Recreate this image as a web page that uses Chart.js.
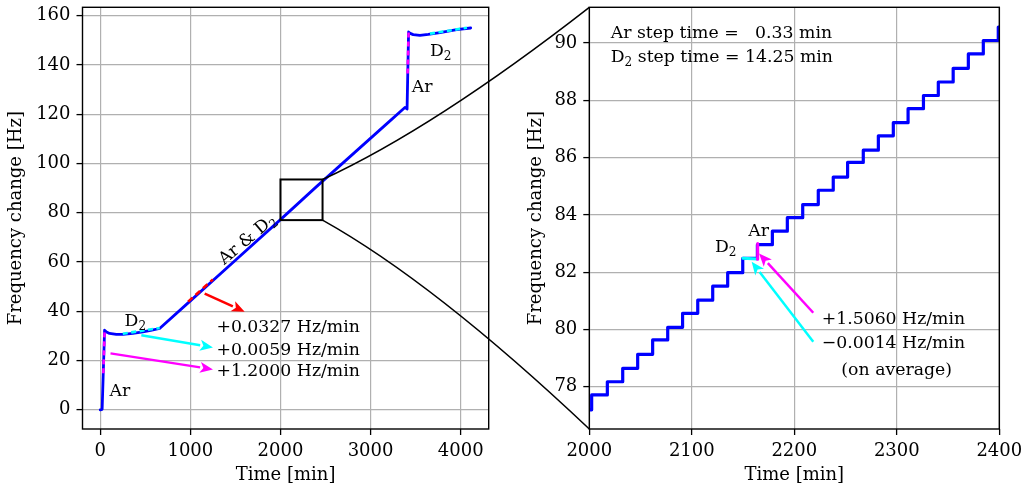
<!DOCTYPE html>
<html>
<head>
<meta charset="utf-8">
<script src="https://cdn.jsdelivr.net/npm/chart.js@4.4.0/dist/chart.umd.min.js"></script>
<style>
  body { margin: 0; background: #fff; }
  #wrap { position: relative; width: 1025px; height: 490px; }
  canvas { position: absolute; top: 0; }
</style>
</head>
<body>
<div id="wrap">
  <canvas id="left" width="500" height="490" style="left:0"></canvas>
  <canvas id="right" width="525" height="490" style="left:500px"></canvas>
  <canvas id="links" width="1025" height="490" style="left:0;pointer-events:none"></canvas>
</div>
<script>
const FONT = '"DejaVu Serif", serif';

// left panel: whole run
const leftTime = [0, 21, 48, 70, 103, 178, 251, 362, 473, 560, 659, 1000, 1500, 2000, 2400, 2800, 3200, 3381, 3395, 3405, 3422, 3440, 3473, 3548, 3640, 3770, 3956, 4111];
const leftFreq = [0, 0.2, 32.3, 31.6, 31.0, 30.6, 30.6, 31.0, 31.6, 32.2, 33.0, 44.2, 60.7, 77.2, 90.6, 103.7, 116.8, 122.7, 122.4, 122.1, 153.4, 152.8, 152.3, 152.0, 152.4, 153.1, 154.3, 155.0];

// fitted segments drawn dashed over the data
const arFit1Time = [34, 48.5],     arFit1Freq = [14.8, 32.3];
const d2Fit1Time = [250, 660],     d2Fit1Freq = [30.9, 33.2];
const mixFitTime = [975, 1250],    mixFitFreq = [43.9, 52.9];
const arFit2Time = [3411, 3422],   arFit2Freq = [136.5, 153.3];
const d2Fit2Time = [3660, 4070],   d2Fit2Freq = [152.7, 155.1];

// right panel: zoom on 2000-2400 min, step times and plateau levels
const stepTime = [2002.3, 2017.6, 2032.6, 2047.2, 2061.8, 2076.5, 2091.0, 2105.8, 2120.4, 2135.0, 2149.7, 2164.0, 2178.6, 2193.2, 2208.2, 2223.4, 2238.0, 2252.0, 2267.3, 2282.0, 2296.6, 2311.0, 2326.0, 2340.5, 2355.0, 2369.8, 2384.4, 2399.0];
const stepLevel = [77.71, 78.17, 78.64, 79.13, 79.63, 80.07, 80.56, 81.02, 81.51, 81.98, 82.48, 82.96, 83.43, 83.90, 84.36, 84.86, 85.32, 85.83, 86.26, 86.76, 87.22, 87.71, 88.17, 88.64, 89.12, 89.62, 90.09, 90.56];
const startLevel = 77.19;
const d2FitZoomTime = [2150, 2163.6], d2FitZoomFreq = [82.48, 82.46];
const arFitZoomTime = [2164.0, 2164.3], arFitZoomFreq = [82.45, 83.0];

// ticks and ranges
const leftXTicks = [0, 1000, 2000, 3000, 4000];
const leftYTicks = [0, 20, 40, 60, 80, 100, 120, 140, 160];
const rightXTicks = [2000, 2100, 2200, 2300, 2400];
const rightYTicks = [78, 80, 82, 84, 86, 88, 90];
const leftXRange = [-197, 4311], leftYRange = [-7.8, 163.4];
const rightXRange = [2000, 2400], rightYRange = [76.52, 91.25];
const zoomBoxX = [2000, 2467], zoomBoxY = [77.0, 93.5];

// annotations (data coords, y = visual centre)
const leftNotes = [
  { t: '+0.0327 Hz/min', x: 1289, y: 34.0 },
  { t: '+0.0059 Hz/min', x: 1289, y: 24.9 },
  { t: '+1.2000 Hz/min', x: 1289, y: 16.3 },
  { t: 'Ar', x: 103, y: 8.0 },
  { t: 'D_{2}', x: 270, y: 36.6 },
  { t: 'Ar', x: 3456, y: 131.4 },
  { t: 'D_{2}', x: 3659, y: 146.3 },
  { t: 'Ar & D_{2}', x: 1622, y: 69.6, rot: -40, align: 'center' }
];
const leftArrows = [
  { c: '#ff0000', from: [1159, 47.2], to: [1603, 39.8] },
  { c: '#00ffff', from: [456, 30.3], to: [1251, 25.3] },
  { c: '#ff00ff', from: [114, 22.9], to: [1251, 16.4] }
];
const rightNotes = [
  { t: 'Ar step time =   0.33 min', x: 2020.9, y: 90.40 },
  { t: 'D_{2} step time = 14.25 min', x: 2020.9, y: 89.57 },
  { t: '+1.5060 Hz/min', x: 2226.7, y: 80.42 },
  { t: '\u22120.0014 Hz/min', x: 2226.7, y: 79.57 },
  { t: '(on average)', x: 2299.9, y: 78.64, align: 'center' },
  { t: 'D_{2}', x: 2122.6, y: 82.91 },
  { t: 'Ar', x: 2155.1, y: 83.49 }
];
const rightArrows = [
  { c: '#00ffff', from: [2218.5, 79.57], to: [2158.4, 82.36] },
  { c: '#ff00ff', from: [2218.5, 80.58], to: [2165.6, 82.65] }
];

function pts(xs, ys) {
  return xs.map((x, i) => ({ x: x, y: ys[i] }));
}

function stairs() {
  const out = [{ x: 1990, y: startLevel }];
  stepTime.forEach((t, i) => out.push({ x: t, y: stepLevel[i] }));
  out.push({ x: 2410, y: stepLevel[stepLevel.length - 1] });
  return out;
}

function richText(ctx, str, x, yc, size, align) {
  const parts = str.split(/(_\{[^}]*\})/).filter(Boolean)
    .map(p => p.startsWith('_{') ? [p.slice(2, -1), true] : [p, false]);
  const fontOf = sub => (sub ? size * 0.7 : size) + 'px ' + FONT;
  let w = 0;
  parts.forEach(([t, s]) => { ctx.font = fontOf(s); w += ctx.measureText(t).width; });
  let cx = align === 'center' ? x - w / 2 : x;
  const base = yc + size * 0.365;
  ctx.textAlign = 'left';
  ctx.textBaseline = 'alphabetic';
  parts.forEach(([t, s]) => {
    ctx.font = fontOf(s);
    ctx.fillText(t, cx, base + (s ? size * 0.22 : 0));
    cx += ctx.measureText(t).width;
  });
}

function arrow(ctx, x0, y0, x1, y1, color) {
  const a = Math.atan2(y1 - y0, x1 - x0);
  const hl = 13, hw = 5.5;
  const bx = x1 - hl * Math.cos(a), by = y1 - hl * Math.sin(a);
  ctx.strokeStyle = color; ctx.fillStyle = color; ctx.lineWidth = 2.5;
  ctx.beginPath(); ctx.moveTo(x0, y0); ctx.lineTo(bx, by); ctx.stroke();
  ctx.beginPath();
  ctx.moveTo(x1, y1);
  ctx.lineTo(bx - hw * Math.sin(a), by + hw * Math.cos(a));
  ctx.lineTo(x1 - hl * 0.75 * Math.cos(a), y1 - hl * 0.75 * Math.sin(a));
  ctx.lineTo(bx + hw * Math.sin(a), by - hw * Math.cos(a));
  ctx.closePath(); ctx.fill();
}

function notesPlugin(notes, arrows, box) {
  return {
    id: 'notes',
    afterDatasetsDraw(chart) {
      const ctx = chart.ctx, sx = chart.scales.x, sy = chart.scales.y;
      ctx.save();
      if (box) {
        const x0 = sx.getPixelForValue(box[0][0]), x1 = sx.getPixelForValue(box[0][1]);
        const y0 = sy.getPixelForValue(box[1][0]), y1 = sy.getPixelForValue(box[1][1]);
        ctx.strokeStyle = '#000'; ctx.lineWidth = 2;
        ctx.strokeRect(x0, y1, x1 - x0, y0 - y1);
      }
      arrows.forEach(a => arrow(ctx, sx.getPixelForValue(a.from[0]), sy.getPixelForValue(a.from[1]),
        sx.getPixelForValue(a.to[0]), sy.getPixelForValue(a.to[1]), a.c));
      ctx.fillStyle = '#000';
      notes.forEach(n => {
        const px = sx.getPixelForValue(n.x), py = sy.getPixelForValue(n.y);
        if (n.rot) {
          ctx.save(); ctx.translate(px, py); ctx.rotate(n.rot * Math.PI / 180);
          richText(ctx, n.t, 0, 0, 17.3, 'center');
          ctx.restore();
        } else {
          richText(ctx, n.t, px, py, 17.3, n.align);
        }
      });
      ctx.restore();
    },
    afterDraw(chart) {
      const a = chart.chartArea, ctx = chart.ctx;
      ctx.save();
      ctx.strokeStyle = '#000'; ctx.lineWidth = 1.4;
      ctx.strokeRect(a.left, a.top, a.right - a.left, a.bottom - a.top);
      ctx.restore();
    }
  };
}

function axis(range, ticks, title, titlePad, isY, size) {
  return {
    type: 'linear', min: range[0], max: range[1],
    afterBuildTicks: s => { s.ticks = ticks.map(v => ({ value: v })); },
    afterFit: s => {
      if (isY) s.width = size; else s.height = size;
      s.paddingTop = 0; s.paddingBottom = 0; s.paddingLeft = 0; s.paddingRight = 0;
    },
    grid: { color: '#b0b0b0', lineWidth: 1.2, tickColor: '#000', tickWidth: 1.3, tickLength: 6 },
    border: { display: false },
    ticks: { color: '#000', font: { family: FONT, size: 18 }, padding: 6, maxRotation: 0, autoSkip: false,
      callback: v => String(v) },
    title: { display: true, text: title, color: '#000', font: { family: FONT, size: 18 },
      padding: isY ? { top: titlePad } : { bottom: titlePad } }
  };
}

function line(data, color, width, dash) {
  return { data: data, showLine: true, borderColor: color, borderWidth: width, pointRadius: 0,
    borderDash: dash || [], borderCapStyle: dash ? 'butt' : 'round', borderJoinStyle: 'round', tension: 0 };
}

const common = { responsive: false, animation: false, events: [], devicePixelRatio: 1,
  plugins: { legend: { display: false }, tooltip: { enabled: false } } };

const leftChart = new Chart(document.getElementById('left'), {
  type: 'scatter',
  data: { datasets: [
    line(pts(arFit1Time, arFit1Freq), '#ff00ff', 2.6, [5, 4]),
    line(pts(d2Fit1Time, d2Fit1Freq), '#00ffff', 2.6, [5, 3.5]),
    line(pts(mixFitTime, mixFitFreq), '#ff0000', 2.6, [6, 4]),
    line(pts(arFit2Time, arFit2Freq), '#ff00ff', 2.6, [5, 4]),
    line(pts(d2Fit2Time, d2Fit2Freq), '#00ffff', 2.6, [5, 3.5]),
    line(pts(leftTime, leftFreq), '#0000ff', 2.8)
  ] },
  options: Object.assign({}, common, {
    layout: { padding: { top: 7.3, right: 11.3, left: 0, bottom: 0 } },
    scales: {
      x: axis(leftXRange, leftXTicks, 'Time [min]', 4, false, 61),
      y: axis(leftYRange, leftYTicks, 'Frequency change [Hz]', 6, true, 82.5)
    }
  }),
  plugins: [notesPlugin(leftNotes, leftArrows, [zoomBoxX, zoomBoxY])]
});

const zoomLine = line(stairs(), '#0000ff', 3.2);
zoomLine.stepped = 'before';

const rightChart = new Chart(document.getElementById('right'), {
  type: 'scatter',
  data: { datasets: [
    line(pts(arFitZoomTime, arFitZoomFreq), '#ff00ff', 3),
    line(pts(d2FitZoomTime, d2FitZoomFreq), '#00ffff', 3),
    zoomLine
  ] },
  options: Object.assign({}, common, {
    layout: { padding: { top: 7.3, right: 25.7, left: 0, bottom: 0 } },
    scales: {
      x: axis(rightXRange, rightXTicks, 'Time [min]', 4, false, 61),
      y: axis(rightYRange, rightYTicks, 'Frequency change [Hz]', 26, true, 89.3)
    }
  }),
  plugins: [notesPlugin(rightNotes, rightArrows, null)]
});

// curved connectors from the zoom box to the right panel corners
(function drawLinks() {
  const ctx = document.getElementById('links').getContext('2d');
  const lx = leftChart.scales.x, ly = leftChart.scales.y;
  const ra = rightChart.chartArea, off = 500;
  const bx = lx.getPixelForValue(zoomBoxX[1]);
  const ends = [
    [bx, ly.getPixelForValue(zoomBoxY[1]), off + ra.left, ra.top],
    [bx, ly.getPixelForValue(zoomBoxY[0]), off + ra.left, ra.bottom]
  ];
  ctx.strokeStyle = '#000'; ctx.lineWidth = 1.5;
  ends.forEach(([x0, y0, x1, y1]) => {
    ctx.beginPath(); ctx.moveTo(x0, y0);
    ctx.quadraticCurveTo(x0 + 0.42 * (x1 - x0), y0 + 0.30 * (y1 - y0), x1, y1);
    ctx.stroke();
  });
})();
</script>
</body>
</html>
